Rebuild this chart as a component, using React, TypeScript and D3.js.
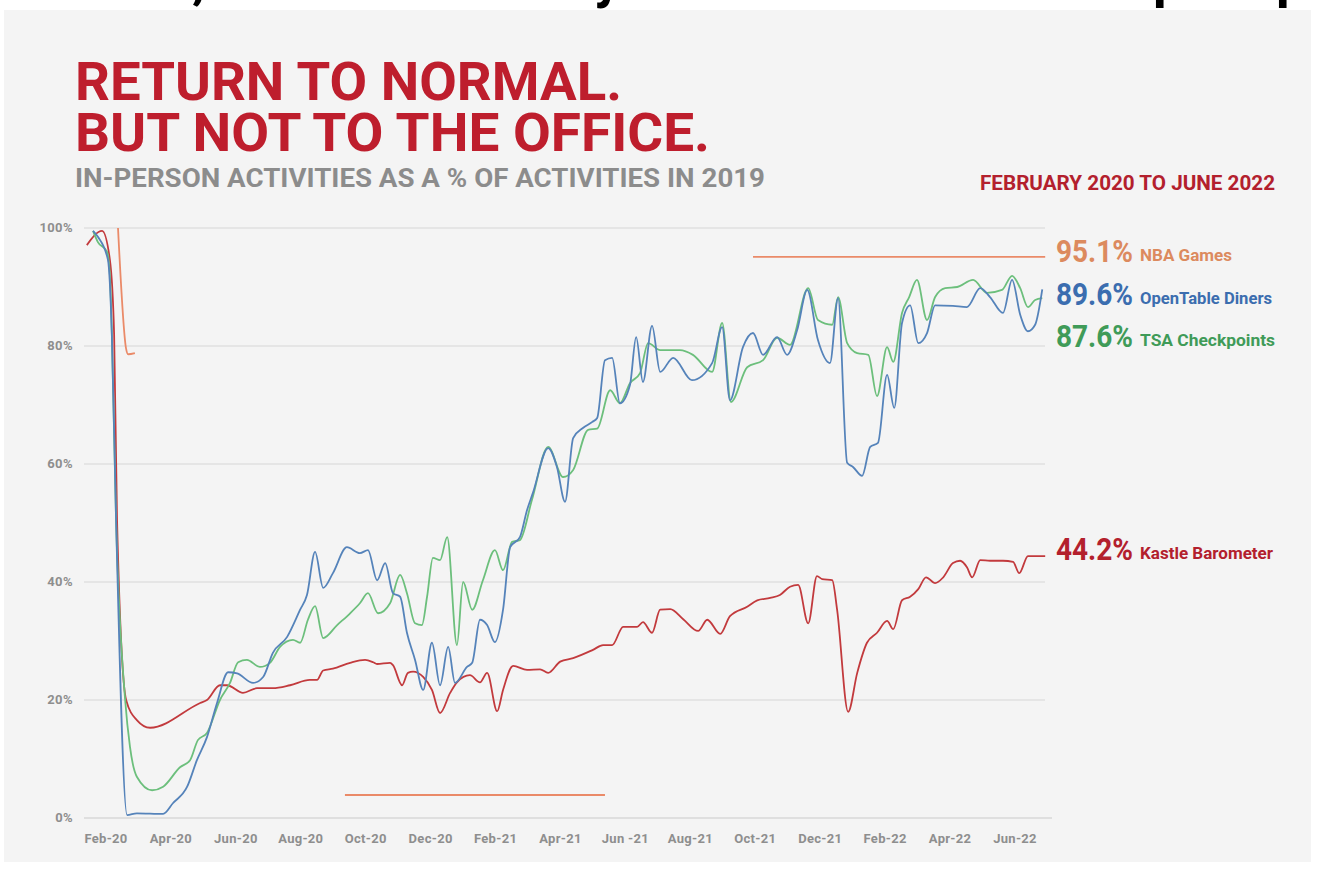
import React from "react";
import * as d3 from "d3";

const W = 1344;
const H = 878;

// x in months since Feb 2020
const tickMonths = [0, 2, 4, 6, 8, 10, 12, 14, 16, 18, 20, 22, 24, 26, 28];
const tickLabels = ["Feb-20", "Apr-20", "Jun-20", "Aug-20", "Oct-20", "Dec-20", "Feb-21", "Apr-21", "Jun -21", "Aug-21", "Oct-21", "Dec-21", "Feb-22", "Apr-22", "Jun-22"];
const yTicks = [0, 20, 40, 60, 80, 100];

const kastle: [number, number][] = [
  [-0.59, 97.1], [-0.12, 99.5], [0.12, 94.6], [0.25, 82], [0.34, 50.5], [0.62, 20], [0.95, 16.6], [1.36, 15.3],
  [2.9, 19.5], [3.11, 20], [3.51, 22.5], [3.73, 22.5], [4.22, 21.2], [4.65, 22], [5.14, 22], [5.67, 22.5],
  [6.28, 23.4], [6.5, 23.4], [6.69, 25], [6.99, 25.3], [7.52, 26.3], [7.98, 26.8], [8.23, 26.4], [8.35, 26.1],
  [8.75, 26.3], [8.84, 25.9], [9.12, 22.5], [9.3, 24.6], [9.46, 24.8], [9.77, 23.9], [10.04, 21.7], [10.29, 17.8],
  [10.6, 21.2], [10.81, 23], [11.21, 24.2], [11.52, 23], [11.74, 24.6], [12.05, 18.1], [12.23, 21.7], [12.54, 25.8],
  [12.97, 25.1], [13.37, 25.2], [13.62, 24.6], [13.99, 26.5], [14.39, 27.1], [15.0, 28.5], [15.31, 29.3], [15.59, 29.3],
  [15.93, 32.4], [16.36, 32.4], [16.54, 33.2], [16.82, 31.4], [17.07, 35.3], [17.38, 35.4], [17.78, 33.7], [18.24, 31.7],
  [18.52, 33.6], [18.92, 31.2], [19.22, 34.2], [19.75, 35.8], [20.06, 36.9], [20.46, 37.3], [20.76, 37.8], [21.07, 39.2],
  [21.32, 39.5], [21.63, 33], [21.9, 41], [22.06, 40.5], [22.37, 40.3], [22.52, 35.3], [22.86, 18], [23.14, 24.6],
  [23.44, 29.7], [23.75, 31.4], [24.06, 33.4], [24.25, 32], [24.52, 36.9], [24.77, 37.5], [25.02, 38.8], [25.26, 40.8],
  [25.54, 39.8], [25.79, 40.8], [26.09, 43.2], [26.31, 43.6], [26.52, 42.5], [26.68, 40.8], [26.93, 43.7], [27.23, 43.6],
  [27.63, 43.6], [27.94, 43.4], [28.13, 41.5], [28.4, 44.4], [28.93, 44.4],
];

const openTable: [number, number][] = [
  [-0.4, 99.5], [-0.25, 98.5], [0.06, 94.6], [0.18, 82], [0.31, 50.5], [0.65, 0.5], [0.95, 0.8], [1.76, 0.7],
  [2.06, 2.5], [2.5, 5.3], [2.8, 9.8], [3.11, 13.7], [3.42, 19.5], [3.76, 24.7], [4.04, 24.5], [4.53, 22.9],
  [4.84, 23.9], [5.14, 28], [5.58, 30.7], [5.98, 35.3], [6.19, 37.8], [6.44, 45.1], [6.69, 39], [6.99, 41.5],
  [7.42, 45.9], [7.82, 44.9], [8.07, 45.4], [8.35, 40.3], [8.6, 43.2], [8.84, 38.1], [9.06, 37.5], [9.27, 31.4],
  [9.52, 26.8], [9.77, 21.7], [10.04, 29.7], [10.29, 22.5], [10.54, 29], [10.75, 22.9], [11.12, 25.6], [11.28, 26.3],
  [11.52, 33.6], [11.74, 32.7], [11.98, 29.8], [12.23, 35.3], [12.45, 45.9], [12.75, 47.6], [12.97, 52.2], [13.15, 55.1],
  [13.62, 62.7], [13.89, 59.5], [14.14, 53.6], [14.39, 64.4], [14.69, 66.1], [14.97, 67.1], [15.13, 67.8], [15.37, 77.6],
  [15.59, 78], [15.83, 70.3], [16.14, 73.4], [16.33, 81.5], [16.54, 73.9], [16.82, 83.4], [17.07, 75.6], [17.47, 78],
  [18.05, 74.2], [18.67, 77.1], [18.98, 83.2], [19.22, 70.8], [19.62, 79.8], [19.93, 82.2], [20.24, 78.5], [20.67, 81.5],
  [20.98, 78.5], [21.29, 82.7], [21.6, 89.5], [21.93, 81], [22.3, 77.1], [22.55, 88.1], [22.83, 60.2], [23.01, 59.5],
  [23.29, 58], [23.54, 62.9], [23.78, 63.6], [24.06, 75.1], [24.28, 69.5], [24.52, 83.9], [24.77, 86.9], [25.02, 80.5],
  [25.29, 82.2], [25.54, 86.9], [26.09, 86.8], [26.52, 86.6], [26.93, 89.8], [27.23, 88.3], [27.63, 85.6], [27.91, 91.2],
  [28.16, 85.3], [28.4, 82.5], [28.62, 83.6], [28.84, 89.6],
];

const tsa: [number, number][] = [
  [-0.4, 99.5], [-0.25, 97.6], [0.03, 96], [0.12, 92], [0.18, 82], [0.31, 50.5], [0.59, 20], [0.74, 12],
  [0.95, 7], [1.42, 4.7], [1.76, 5.3], [2.28, 8.6], [2.59, 9.8], [2.83, 13.2], [3.11, 14.4], [3.51, 20],
  [3.82, 22.9], [4.07, 26.4], [4.34, 26.8], [4.74, 25.6], [5.05, 26.3], [5.36, 29], [5.76, 30.2], [5.98, 29.7],
  [6.22, 33.6], [6.44, 35.9], [6.69, 30.5], [7.12, 32.7], [7.52, 34.7], [7.82, 36.4], [8.07, 38.1], [8.38, 34.7],
  [8.75, 36.4], [9.06, 41.2], [9.27, 38.1], [9.52, 33], [9.73, 32.7], [9.89, 37.5], [10.07, 44.1], [10.29, 43.7],
  [10.51, 47.6], [10.81, 29.3], [11.0, 40], [11.28, 35.3], [11.61, 40.3], [11.98, 45.4], [12.23, 42], [12.51, 46.8],
  [12.75, 47.1], [13.12, 53.9], [13.62, 62.9], [14.08, 57.8], [14.39, 59], [14.85, 65.8], [15.13, 66], [15.53, 72.5],
  [15.83, 70.3], [16.14, 73.7], [16.45, 75.4], [16.7, 80.5], [17.07, 79.3], [17.68, 79.3], [18.08, 78.5], [18.67, 75.6],
  [18.98, 83.9], [19.25, 70.5], [19.75, 76.4], [20.24, 77.6], [20.67, 81.4], [21.07, 80.2], [21.63, 89.8], [21.93, 84.4],
  [22.37, 83.6], [22.55, 88.3], [22.83, 80.5], [23.14, 78.8], [23.48, 78.5], [23.75, 71.5], [24.06, 79.8], [24.25, 77.3],
  [24.52, 85.6], [24.74, 88.3], [24.98, 91.2], [25.29, 84.4], [25.54, 88.3], [25.85, 89.8], [26.22, 90], [26.71, 91.2],
  [27.14, 89], [27.6, 89.5], [27.91, 91.9], [28.16, 89.8], [28.4, 86.6], [28.62, 87.8], [28.84, 88.1],
];

const nbaSeg1: [number, number][] = [[0.37, 100], [0.62, 79.5], [0.68, 78.6], [0.89, 78.8]];
const nbaSeg2: [number, number][] = [[7.36, 3.9], [15.37, 3.9]];
const nbaSeg3: [number, number][] = [[19.93, 95.1], [28.93, 95.1]];

const endLabels = [
  { value: "95.1%", name: "NBA Games", color: "#dc8a5e", y: 262, numW: 77, nameW: 92 },
  { value: "89.6%", name: "OpenTable Diners", color: "#3b6daf", y: 305, numW: 77, nameW: 132 },
  { value: "87.6%", name: "TSA Checkpoints", color: "#3f9b58", y: 347, numW: 77, nameW: 135 },
  { value: "44.2%", name: "Kastle Barometer", color: "#b3202d", y: 560, numW: 77, nameW: 133 },
];

const FONT = "Roboto, 'Noto Sans', sans-serif";

export default function App() {
  const x = d3.scaleLinear().domain([0, 28]).range([106, 1015]);
  const y = d3.scaleLinear().domain([0, 100]).range([818, 228]);
  const line = d3
    .line<[number, number]>()
    .x((d) => x(d[0]))
    .y((d) => y(d[1]))
    .curve(d3.curveMonotoneX);
  const straight = d3
    .line<[number, number]>()
    .x((d) => x(d[0]))
    .y((d) => y(d[1]));

  return (
    <svg width={W} height={H} style={{ position: "absolute", left: 0, top: 0, background: "#ffffff" }} fontFamily={FONT}>
      <rect x={0} y={0} width={W} height={H} fill="#ffffff" />
      {/* cropped text fragments from above */}
      <g fill="#000" fontWeight={700} fontSize={54}>
        <text x={192} y={-3}>,</text>
        <text x={594} y={-3}>y</text>
        <text x={1153} y={-3}>p</text>
        <text x={1276} y={-3}>p</text>
      </g>
      <rect x={4} y={10} width={1307} height={852} fill="#f4f4f4" />

      {/* titles */}
      <text x={75} y={100} fill="#be1e2d" fontWeight={700} fontSize={53} textLength={547} lengthAdjust="spacingAndGlyphs">
        RETURN TO NORMAL.
      </text>
      <text x={75} y={151} fill="#be1e2d" fontWeight={700} fontSize={53} textLength={635} lengthAdjust="spacingAndGlyphs">
        BUT NOT TO THE OFFICE.
      </text>
      <text x={75} y={187} fill="#8c8c8c" fontWeight={700} fontSize={25} textLength={690} lengthAdjust="spacingAndGlyphs">
        IN-PERSON ACTIVITIES AS A % OF ACTIVITIES IN 2019
      </text>
      <text x={980} y={190} fill="#b3202d" fontWeight={700} fontSize={20} textLength={295} lengthAdjust="spacingAndGlyphs">
        FEBRUARY 2020 TO JUNE 2022
      </text>

      {/* grid */}
      {yTicks.map((t) => (
        <g key={t}>
          <line x1={84} x2={t === 0 ? 1052 : 1045} y1={y(t)} y2={y(t)} stroke={t === 0 ? "#d8d8d8" : "#e1e1e1"} strokeWidth={1.6} />
          <text x={73} y={y(t) + 4} textAnchor="end" fill="#8e8e8e" fontWeight={700} fontSize={13} letterSpacing={0.4}>
            {t}%
          </text>
        </g>
      ))}
      {tickMonths.map((m, i) => (
        <text key={m} x={x(m)} y={843} textAnchor="middle" fill="#8e8e8e" fontWeight={700} fontSize={13} letterSpacing={0.3}>
          {tickLabels[i]}
        </text>
      ))}

      {/* NBA */}
      <g fill="none" stroke="#ea8a68" strokeWidth={1.8}>
        <path d={line(nbaSeg1) || ""} />
        <path d={straight(nbaSeg2) || ""} />
        <path d={straight(nbaSeg3) || ""} />
      </g>
      <path d={line(kastle) || ""} fill="none" stroke="#c23a3d" strokeWidth={1.8} />
      <path d={line(tsa) || ""} fill="none" stroke="#6cbf7c" strokeWidth={1.8} />
      <path d={line(openTable) || ""} fill="none" stroke="#5583ba" strokeWidth={1.8} />

      {/* end labels */}
      {endLabels.map((l) => (
        <g key={l.name} fill={l.color} fontWeight={700}>
          <text x={1056} y={l.y} fontSize={31} textLength={l.numW} lengthAdjust="spacingAndGlyphs">
            {l.value}
          </text>
          <text x={1140} y={l.y - 1} fontSize={17} textLength={l.nameW} lengthAdjust="spacingAndGlyphs">
            {l.name}
          </text>
        </g>
      ))}
    </svg>
  );
}
